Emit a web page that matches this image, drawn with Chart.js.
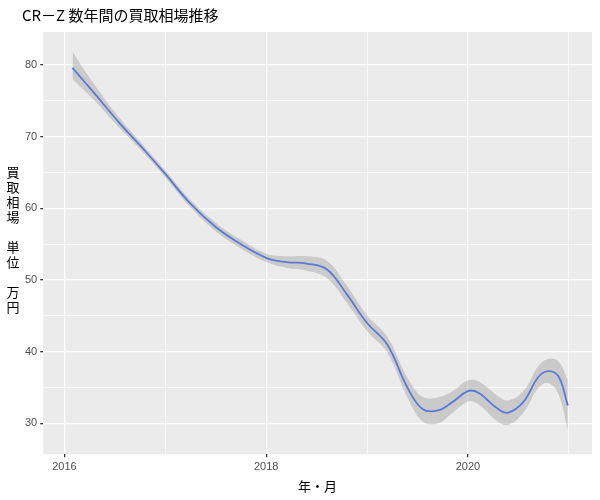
<!DOCTYPE html><html><head><meta charset="utf-8">
<script src="https://cdn.jsdelivr.net/npm/chart.js@4"></script>
<style>body{margin:0;background:#fff}#w{width:600px;height:500px}</style></head><body><div id="w"><canvas id="c"></canvas></div>
<script>
const years=[2016.08,2016.3,2016.54,2016.8,2017.0,2017.24,2017.5,2017.75,2018.0,2018.2,2018.4,2018.6,2018.8,2019.0,2019.2,2019.4,2019.55,2019.7,2019.85,2020.0,2020.1,2020.3,2020.4,2020.55,2020.7,2020.8,2020.9,2020.99];
const fit=[79.6,76.0,72.0,68.0,64.8,60.8,57.4,55.0,53.1,52.5,52.3,51.5,48.0,44.0,41.0,35.0,32.0,31.8,33.0,34.5,34.3,32.0,31.5,33.0,36.5,37.3,36.5,32.5];
const lower=[78.0,75.0,71.3,67.5,64.3,60.3,56.8,54.4,52.5,51.7,51.3,50.3,46.8,42.9,39.9,33.6,30.3,30.0,31.5,33.0,32.7,30.2,29.8,31.5,35.0,35.6,34.0,29.0];
const upper=[81.8,77.2,72.7,68.5,65.3,61.3,58.0,55.6,53.7,53.3,53.3,52.7,49.2,45.1,42.1,36.4,33.7,33.6,34.5,36.0,35.9,33.8,33.2,34.5,38.0,39.0,38.6,36.0];
const pts=a=>years.map((x,i)=>({x,y:a[i]}));
const yTitle=['買','取','相','場','','単','位','','万','円'];
const bg={id:'bg',beforeDraw(c){const a=c.chartArea,g=c.ctx;g.save();g.fillStyle='#EBEBEB';g.fillRect(a.left,a.top,a.right-a.left,a.bottom-a.top);g.restore();},
afterDraw(c){const g=c.ctx;g.save();g.fillStyle='#000';g.font='13px "Noto Sans CJK JP"';g.textAlign='center';g.textBaseline='middle';
yTitle.forEach((t,i)=>g.fillText(t,13,172+i*15));g.restore();}};
new Chart(document.getElementById('c'),{type:'line',
data:{datasets:[
{data:pts(lower),borderWidth:0,pointRadius:0,tension:0.4,fill:false},
{data:pts(upper),borderWidth:0,pointRadius:0,tension:0.4,fill:'-1',backgroundColor:'rgba(153,153,153,0.4)'},
{data:pts(fit),borderColor:'#3366FF',borderWidth:1.8,pointRadius:0,tension:0.4,fill:false}]},
options:{responsive:true,maintainAspectRatio:false,animation:false,
layout:{padding:{left:22,right:8,top:0,bottom:2}},
plugins:{legend:{display:false},tooltip:{enabled:false},
title:{display:true,text:'CR－Z 数年間の買取相場推移',align:'start',color:'#000',font:{size:15,family:'"Noto Sans CJK JP"',weight:'normal'},padding:{top:6,bottom:8}}},
scales:{
x:{type:'linear',min:2015.79,max:2021.23,border:{display:false},
afterBuildTicks(s){s.ticks=[2016,2017,2018,2019,2020,2021].map(v=>({value:v}));},
ticks:{color:'#4d4d4d',font:{size:11},autoSkip:false,maxRotation:0,callback:v=>v%2===0?String(v):''},
grid:{color:'#fff',lineWidth:c=>c.tick&&c.tick.value%2===0?1.3:0.6,tickColor:c=>c.tick&&c.tick.value%2===0?'#333':'rgba(0,0,0,0)',tickLength:3},
title:{display:true,text:'年・月',color:'#000',font:{size:13,family:'"Noto Sans CJK JP"'},padding:{top:2}}},
y:{min:25.7,max:84.6,border:{display:false},
afterBuildTicks(s){s.ticks=[30,35,40,45,50,55,60,65,70,75,80].map(v=>({value:v}));},
ticks:{color:'#4d4d4d',font:{size:11},autoSkip:false,callback:v=>v%10===0?String(v):''},
grid:{color:'#fff',lineWidth:c=>c.tick&&c.tick.value%10===0?1.3:0.6,tickColor:c=>c.tick&&c.tick.value%10===0?'#333':'rgba(0,0,0,0)',tickLength:3}}}},
plugins:[bg]});
</script></body></html>
